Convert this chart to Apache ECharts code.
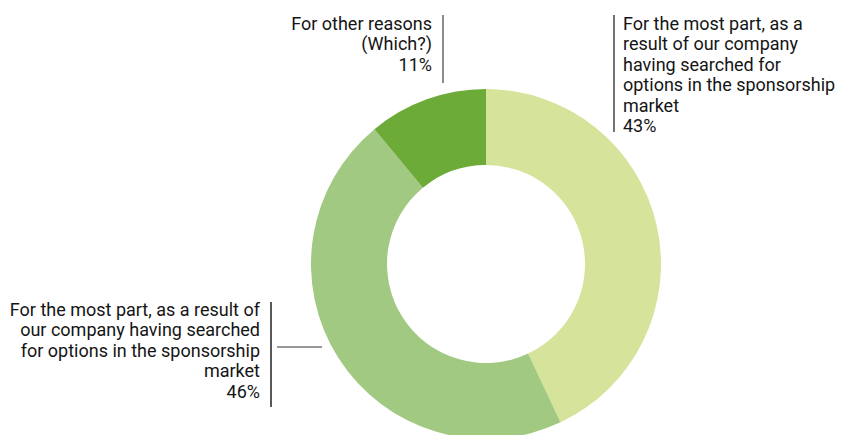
<!DOCTYPE html>
<html>
<head>
<meta charset="utf-8">
<script src="https://cdn.jsdelivr.net/npm/echarts@6/dist/echarts.min.js"></script>
<style>
  html, body { margin: 0; padding: 0; background: #fff; }
  #chart { width: 841px; height: 435px; }
</style>
</head>
<body>
<div id="chart"></div>
<script>
// slice data, clockwise from 12 o'clock
const categories = [
  'For the most part, as a result of our company having searched for options in the sponsorship market (a)',
  'For the most part, as a result of our company having searched for options in the sponsorship market (b)',
  'For other reasons (Which?)'
];
const values = [43, 46, 11];
const colors = ['#d5e39b', '#a2c982', '#6cab38'];
// label text as wrapped in the picture
const labelLines = [
  ['For the most part, as a', 'result of our company', 'having searched for', 'options in the sponsorship', 'market'],
  ['For the most part, as a result of', 'our company having searched', 'for options in the sponsorship', 'market'],
  ['For other reasons', '(Which?)']
];

const chart = echarts.init(document.getElementById('chart'), null, { renderer: 'svg' });

const font = '18px Roboto, "Noto Sans", sans-serif';
const txt = (i, x, y, align) => ({
  type: 'text',
  x: x, y: y,
  style: {
    text: labelLines[i].concat([values[i] + '%']).join('\n'),
    font: font,
    fill: '#151515',
    align: align,
    verticalAlign: 'top',
    lineHeight: 20.5
  }
});
const bar = (x1, y1, x2, y2, color) => ({
  type: 'line',
  shape: { x1: x1, y1: y1, x2: x2, y2: y2 },
  style: { stroke: color, lineWidth: 1.5 }
});

chart.setOption({
  backgroundColor: '#fff',
  animation: false,
  series: [{
    type: 'pie',
    center: [486, 264],
    radius: [99, 175],
    startAngle: 90,
    clockwise: true,
    label: { show: false },
    labelLine: { show: false },
    emphasis: { disabled: true },
    data: categories.map((c, i) => ({
      name: c,
      value: values[i],
      itemStyle: { color: colors[i] }
    }))
  }],
  graphic: [
    // right slice label
    bar(614, 15, 614, 132, '#444'),
    txt(0, 623, 13, 'left'),
    // left slice label
    bar(271, 302, 271, 407, '#222'),
    bar(277, 347, 322, 347, '#777'),
    txt(1, 260, 299, 'right'),
    // top slice label
    bar(443, 15, 443, 83, '#666'),
    txt(2, 432, 13, 'right')
  ]
});
</script>
</body>
</html>
